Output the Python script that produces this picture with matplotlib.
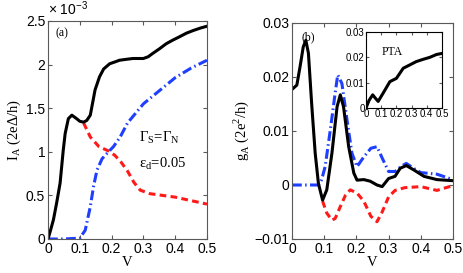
import matplotlib

matplotlib.use("Agg")
import matplotlib.pyplot as plt
from matplotlib.ticker import ScalarFormatter

# panel (a): Andreev current, units of 2e*Delta/h
v_a_black = [0, 0.008, 0.017, 0.027, 0.038, 0.043, 0.048, 0.054, 0.064, 0.075, 0.09,
             0.1, 0.112, 0.122, 0.133, 0.148, 0.162, 0.175, 0.194, 0.21, 0.225, 0.245,
             0.267, 0.285, 0.3, 0.315, 0.33, 0.35, 0.372, 0.392, 0.414, 0.435, 0.456,
             0.48, 0.5]
i_black = [0, 0.1e-3, 0.22e-3, 0.41e-3, 0.64e-3, 0.83e-3, 1.02e-3, 1.21e-3, 1.38e-3,
           1.42e-3, 1.38e-3, 1.35e-3, 1.34e-3, 1.36e-3, 1.42e-3, 1.71e-3, 1.86e-3,
           1.95e-3, 2.01e-3, 2.03e-3, 2.05e-3, 2.06e-3, 2.07e-3, 2.07e-3, 2.07e-3,
           2.09e-3, 2.13e-3, 2.18e-3, 2.24e-3, 2.28e-3, 2.32e-3, 2.36e-3, 2.39e-3,
           2.42e-3, 2.44e-3]
v_a_red = [0.112, 0.133, 0.16, 0.19, 0.21, 0.23, 0.25, 0.27, 0.29, 0.32, 0.36, 0.4,
           0.45, 0.5]
i_red = [1.33e-3, 1.17e-3, 1.06e-3, 1.01e-3, 0.96e-3, 0.88e-3, 0.78e-3, 0.65e-3,
         0.56e-3, 0.52e-3, 0.50e-3, 0.48e-3, 0.44e-3, 0.40e-3]
v_a_blue = [0, 0.05, 0.1, 0.117, 0.133, 0.143, 0.154, 0.17, 0.185, 0.206, 0.227, 0.25,
            0.3, 0.35, 0.4, 0.45, 0.5]
i_blue = [0, 0, 0.01e-3, 0.1e-3, 0.37e-3, 0.6e-3, 0.79e-3, 0.92e-3, 0.98e-3, 1.06e-3,
          1.17e-3, 1.33e-3, 1.55e-3, 1.70e-3, 1.85e-3, 1.96e-3, 2.05e-3]

# panel (b): Andreev conductance, units of 2e^2/h
v_b_black = [0, 0.015, 0.025, 0.035, 0.043, 0.051, 0.061, 0.072, 0.082, 0.095, 0.108,
             0.124, 0.14, 0.15, 0.16, 0.176, 0.192, 0.202, 0.223, 0.243, 0.264, 0.28,
             0.3, 0.32, 0.336, 0.355, 0.378, 0.41, 0.45, 0.5]
g_black = [0.0177, 0.0185, 0.0219, 0.0256, 0.0268, 0.0244, 0.0151, 0.0059, 0.0003,
           -0.0028, -0.0009, 0.0059, 0.0145, 0.0167, 0.0145, 0.0071, 0.0022, 0.0009,
           0.001, 0.0007, 0.0, -0.0003, 0.0012, 0.0016, 0.0031, 0.0036, 0.0028, 0.0016,
           0.001, 0.0008]
v_b_blue = [0, 0.082, 0.092, 0.103, 0.119, 0.134, 0.142, 0.155, 0.171, 0.186, 0.202,
            0.223, 0.245, 0.264, 0.28, 0.3, 0.32, 0.34, 0.355, 0.38, 0.4, 0.45, 0.5]
g_blue = [0, 0, 0.001, 0.0034, 0.0102, 0.017, 0.0204, 0.0188, 0.012, 0.0059, 0.0034,
          0.0052, 0.0068, 0.0071, 0.005, 0.0025, 0.0025, 0.0035, 0.004, 0.003, 0.0023,
          0.002, 0.001]
v_b_red = [0.095, 0.108, 0.124, 0.134, 0.15, 0.166, 0.181, 0.202, 0.223, 0.245, 0.264,
           0.28, 0.3, 0.32, 0.35, 0.4, 0.45, 0.5]
g_red = [-0.003, -0.0052, -0.0065, -0.0062, -0.004, -0.0019, -0.0009, -0.0015, -0.003,
         -0.0058, -0.0068, -0.005, -0.0022, -0.001, -0.0005, -0.0003, -0.001, -0.0001]

# inset: PTA
v_pta = [0, 0.02, 0.044, 0.06, 0.08, 0.113, 0.157, 0.2, 0.245, 0.288, 0.33, 0.375,
         0.42, 0.463, 0.496]
g_pta = [0, 0.003, 0.0052, 0.004, 0.0026, 0.0059, 0.0104, 0.0117, 0.0157, 0.017, 0.0183,
         0.0192, 0.02, 0.0211, 0.0215]

v_ticks = [0, 0.1, 0.2, 0.3, 0.4, 0.5]
v_ticklabels = ["0", "0.1", "0.2", "0.3", "0.4", "0.5"]
i_ticks = [0, 0.5e-3, 1e-3, 1.5e-3, 2e-3, 2.5e-3]
i_ticklabels = ["0", "0.5", "1", "1.5", "2", "2.5"]

plt.rcParams["font.family"] = "Liberation Sans"
serif = "Liberation Serif"
frame = "0.35"

fig = plt.figure(figsize=(4.63, 2.73), dpi=100)
ax1 = fig.add_axes([48 / 463, 1 - 239 / 273, 159 / 463, 218 / 273])
ax2 = fig.add_axes([292 / 463, 1 - 239 / 273, 161 / 463, 216 / 273])
ax3 = fig.add_axes([366 / 463, 1 - 108 / 273, 76 / 463, 76 / 273])


def style(ax, size):
    for s in ax.spines.values():
        s.set_color(frame)
        s.set_linewidth(0.8)
    ax.tick_params(direction="in", top=True, right=True, labelsize=size, colors="black",
                   color=frame, length=3, pad=2)


lw = 2.2
red_ls = (0, (2.2, 1.4))
blue_ls = (0, (3.2, 1.1, 0.5, 1.1))

ax1.plot(v_a_red, i_red, color="#ff1a1a", ls=red_ls, lw=lw)
ax1.plot(v_a_blue, i_blue, color="#1f3fff", ls=blue_ls, lw=lw)
ax1.plot(v_a_black, i_black, color="black", lw=lw)
ax1.set_xlim(0, 0.5)
ax1.set_ylim(0, 2.5e-3)
ax1.set_xticks(v_ticks)
ax1.set_xticklabels(v_ticklabels)
ax1.set_yticks(i_ticks)
ax1.set_yticklabels(i_ticklabels)
style(ax1, 10)
ax1.text(0.0, 1.012, "\u00d7 10$^{\\mathregular{-3}}$", transform=ax1.transAxes,
         fontsize=10, va="bottom", ha="left")
ax1.set_xlabel("V", family=serif, fontsize=10.5, labelpad=0)
ax1.set_ylabel("I$_\\mathregular{A}$ (2eΔ/h)", family=serif, fontsize=10.5, labelpad=2)
ax1.text(0.025, 2.33e-3, "(a)", family=serif, fontsize=8.5)
ax1.text(0.285, 1.12e-3, "Γ$_\\mathregular{S}$=Γ$_\\mathregular{N}$", family=serif, fontsize=10.5)
ax1.text(0.285, 0.82e-3, "ε$_\\mathregular{d}$=0.05", family=serif, fontsize=10.5)

ax2.plot(v_b_red, g_red, color="#ff1a1a", ls=red_ls, lw=lw)
ax2.plot(v_b_blue, g_blue, color="#1f3fff", ls=blue_ls, lw=lw)
ax2.plot(v_b_black, g_black, color="black", lw=lw)
ax2.set_xlim(0, 0.5)
ax2.set_ylim(-0.01, 0.03)
ax2.set_xticks(v_ticks)
ax2.set_xticklabels(v_ticklabels)
ax2.set_yticks([-0.01, 0, 0.01, 0.02, 0.03])
ax2.set_yticklabels(["\u22120.01", "0", "0.01", "0.02", "0.03"])
style(ax2, 10)
ax2.set_xlabel("V", family=serif, fontsize=10.5, labelpad=0)
ax2.set_ylabel("g$_\\mathregular{A}$ (2e$^\\mathregular{2}$/h)", family=serif, fontsize=10.5,
               labelpad=2)
ax2.text(0.028, 0.0268, "(b)", family=serif, fontsize=8.5)

ax3.plot(v_pta, g_pta, color="black", lw=lw)
ax3.set_xlim(0, 0.5)
ax3.set_ylim(0, 0.03)
ax3.set_xticks(v_ticks)
ax3.set_xticklabels(v_ticklabels)
ax3.set_yticks([0, 0.01, 0.02, 0.03])
ax3.set_yticklabels(["0", "0.01", "0.02", "0.03"])
for s in ax3.spines.values():
    s.set_color("black")
    s.set_linewidth(0.8)
ax3.tick_params(direction="in", top=True, right=True, labelsize=7, color=frame,
                length=2, pad=1)
ax3.text(0.1, 0.021, "PTA", family=serif, fontsize=8.5)

fig.savefig("out.png", dpi=100)
